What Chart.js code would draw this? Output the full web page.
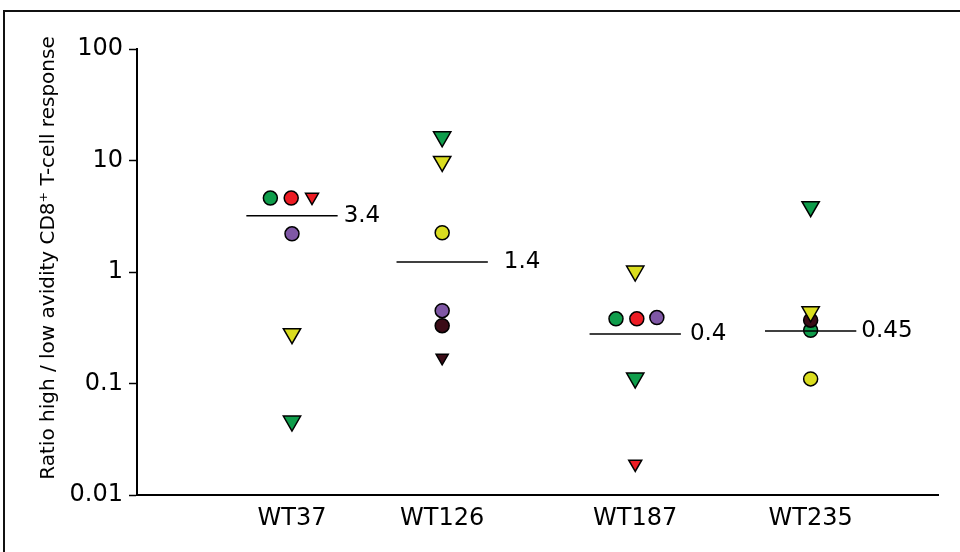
<!DOCTYPE html>
<html>
<head>
<meta charset="utf-8">
<script src="https://cdn.jsdelivr.net/npm/chart.js@4"></script>
<style>
  body { margin: 0; background: #fff; }
</style>
</head>
<body>
<canvas id="myChart" width="960" height="552"></canvas>
<script>
// groups and where they sit on the x axis (0-100 units)
const categories = ['WT37', 'WT126', 'WT187', 'WT235'];
const catPos = [19.35, 38.1, 62.2, 84.1];

// ratio values per marker type, one per group (null = no marker)
const greenCircle = [4.6, null, 0.38, 0.30];
const redCircle = [4.6, null, 0.38, null];
const purpleCircle = [2.2, 0.45, 0.39, null];
const maroonCircle = [null, 0.33, null, 0.37];
const yellowCircle = [null, 2.25, null, 0.11];
const greenTriangle = [0.046, 16.3, 0.112, 3.85];
const yellowTriangle = [0.28, 9.8, 1.02, 0.44];
const redTriangle = [4.7, null, 0.019, null];
const maroonTriangle = [null, 0.17, null, null];

// mean bars and their printed values
const meanValues = [3.2, 1.23, 0.278, 0.296];
const meanLabels = ['3.4', '1.4', '0.4', '0.45'];

const yTicks = [0.01, 0.1, 1, 10, 100];
const yTitle = 'Ratio high / low avidity CD8⁺ T-cell response';

// horizontal spread of markers that share a row
const jitter = {
  greenCircle: [-2.7, 0, -2.4, 0],
  redCircle: [-0.1, 0, 0.2, 0],
  purpleCircle: [0, 0, 2.7, 0],
  redTriangle: [2.5, 0, 0, 0],
};
const meanHalf = 5.7;
const meanLabelGap = [6, 16, 9, 5];

const FONT = 'DejaVu Sans';

function points(values, shift) {
  let out = [];
  values.forEach((v, i) => {
    if (v != null) out.push({ x: catPos[i] + (shift ? shift[i] : 0), y: v });
  });
  return out;
}

function markers(label, values, color, style, radius, shift) {
  return {
    type: 'scatter',
    label: label,
    data: points(values, shift),
    backgroundColor: color,
    borderColor: '#000',
    borderWidth: 1.5,
    pointStyle: style,
    pointRadius: radius,
    pointHoverRadius: radius,
    pointRotation: style === 'triangle' ? 180 : 0,
  };
}

const meanSets = meanValues.map((m, i) => ({
  type: 'line',
  label: 'mean ' + categories[i],
  data: [
    { x: catPos[i] - meanHalf, y: m },
    { x: catPos[i] + meanHalf, y: m },
  ],
  borderColor: '#000',
  borderWidth: 1.5,
  pointRadius: 0,
  fill: false,
}));

const frame = {
  id: 'frame',
  beforeDraw(chart) {
    const c = chart.ctx;
    c.save();
    c.strokeStyle = '#111';
    c.lineWidth = 2;
    c.beginPath();
    c.moveTo(4, 552);
    c.lineTo(4, 11);
    c.lineTo(960, 11);
    c.stroke();
    c.restore();
  },
};

// axis title sits a bit above the plot's middle in the original
const sideTitle = {
  id: 'sideTitle',
  afterDraw(chart) {
    const c = chart.ctx;
    c.save();
    c.translate(49, 258);
    c.rotate(-Math.PI / 2);
    c.fillStyle = '#000';
    c.font = '20px "' + FONT + '"';
    c.textAlign = 'center';
    c.textBaseline = 'middle';
    c.fillText(yTitle, 0, 0);
    c.restore();
  },
};

const meanText = {
  id: 'meanText',
  afterDatasetsDraw(chart) {
    const c = chart.ctx;
    const xs = chart.scales.x;
    const ys = chart.scales.y;
    c.save();
    c.fillStyle = '#000';
    c.font = '23px "' + FONT + '"';
    c.textBaseline = 'middle';
    c.textAlign = 'left';
    meanLabels.forEach((t, i) => {
      let x = xs.getPixelForValue(catPos[i] + meanHalf) + meanLabelGap[i];
      let y = ys.getPixelForValue(meanValues[i]);
      c.fillText(t, x, y);
    });
    c.restore();
  },
};

let ctx = document.getElementById('myChart').getContext('2d');
let myChart = new Chart(ctx, {
  data: {
    datasets: [
      ...meanSets,
      markers('yellow ▼', yellowTriangle, '#dadd1f', 'triangle', 10),
      markers('green ▼', greenTriangle, '#0f9d4b', 'triangle', 10),
      markers('red ▼', redTriangle, '#ed1c24', 'triangle', 7.5, jitter.redTriangle),
      markers('maroon ▼', maroonTriangle, '#3b0c17', 'triangle', 7),
      markers('purple ●', purpleCircle, '#7f57a5', 'circle', 7, jitter.purpleCircle),
      markers('maroon ●', maroonCircle, '#3b0c17', 'circle', 7),
      markers('green ●', greenCircle, '#0f9d4b', 'circle', 7, jitter.greenCircle),
      markers('red ●', redCircle, '#ed1c24', 'circle', 7, jitter.redCircle),
      markers('yellow ●', yellowCircle, '#dadd1f', 'circle', 7),
    ],
  },
  options: {
    responsive: false,
    animation: false,
    layout: {
      padding: { top: 49, right: 22, bottom: 0, left: 0 },
    },
    scales: {
      x: {
        type: 'linear',
        min: 0,
        max: 100,
        afterBuildTicks: (scale) => {
          scale.ticks = catPos.map((v) => ({ value: v }));
        },
        afterFit: (scale) => {
          scale.height = 57;
        },
        ticks: {
          callback: (v, i) => categories[i],
          color: '#000',
          padding: 9,
          maxRotation: 0,
          autoSkip: false,
          font: { size: 24, family: FONT },
        },
        grid: { display: false, drawTicks: false },
        border: { display: true, color: '#000', width: 2 },
      },
      y: {
        type: 'logarithmic',
        min: 0.01,
        max: 100,
        afterBuildTicks: (scale) => {
          scale.ticks = yTicks.map((v) => ({ value: v }));
        },
        afterFit: (scale) => {
          scale.width = 137;
        },
        ticks: {
          callback: (v) => String(v),
          color: '#000',
          padding: 6,
          font: { size: 24, family: FONT },
        },
        grid: {
          drawOnChartArea: false,
          drawTicks: true,
          tickLength: 8,
          color: '#000',
          tickWidth: 1.5,
        },
        border: { display: true, color: '#000', width: 2 },
      },
    },
    plugins: {
      legend: { display: false },
      tooltip: { enabled: false },
    },
  },
  plugins: [frame, meanText, sideTitle],
});
</script>
</body>
</html>
